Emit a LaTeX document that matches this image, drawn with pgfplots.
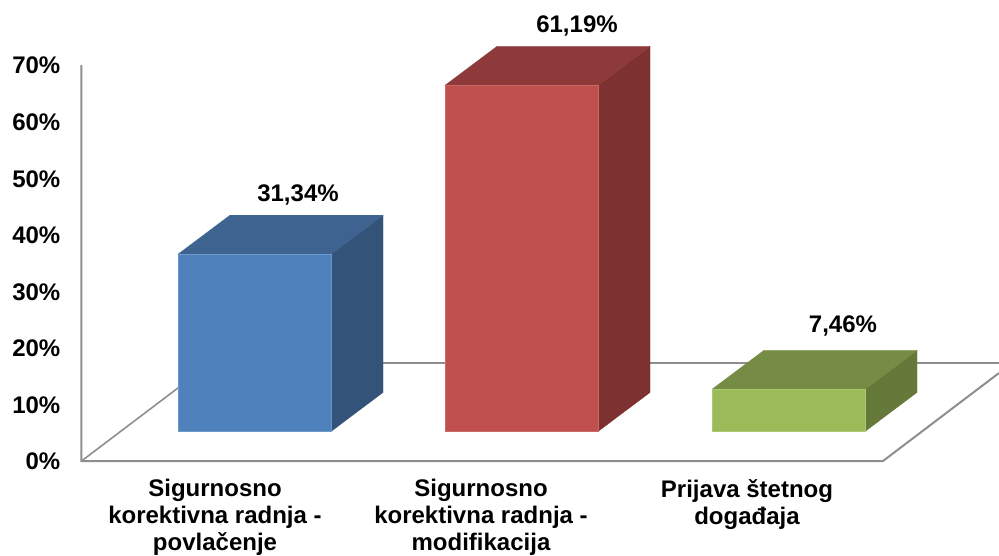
\documentclass[border=0pt]{standalone}
\usepackage{fontspec}
\setmainfont{Liberation Sans}
\usepackage{pgfplots}
\pgfplotsset{compat=1.18}

\definecolor{frameline}{HTML}{8E8E8E}
\definecolor{blueFront}{HTML}{4F81BD}
\definecolor{blueTop}{HTML}{3F6390}
\definecolor{blueSide}{HTML}{335378}
\definecolor{blueEdge}{HTML}{6E97CA}
\definecolor{redFront}{HTML}{C0504D}
\definecolor{redTop}{HTML}{8F3A3A}
\definecolor{redSide}{HTML}{7D3231}
\definecolor{redEdge}{HTML}{C86A67}
\definecolor{greenFront}{HTML}{9BBB59}
\definecolor{greenTop}{HTML}{768C45}
\definecolor{greenSide}{HTML}{657A3A}
\definecolor{greenEdge}{HTML}{ABC872}

% Value labels: decimal comma, two places, percent sign
\pgfplotsset{
  pct label/.style 2 args={
    nodes near coords={\pgfmathprintnumber[fixed,fixed zerofill,precision=2,use comma,assume math mode=true]{\pgfplotspointmeta}\%},
    every node near coord/.append style={
      anchor=base, xshift=#1, yshift=#2, inner sep=0pt, text=black,
      font=\fontsize{24}{27}\selectfont\bfseries},
  },
  front bar/.style={ybar, bar width=153pt, bar shift=0pt, fill=#1},
}

\begin{document}
\begin{tikzpicture}
\path[use as bounding box] (-81.5pt,-94pt) rectangle (917.5pt,461pt);
\begin{axis}[
  at={(0pt,0pt)}, anchor=south west,
  scale only axis, width=917.5pt, height=461pt,
  xmin=81.5, xmax=999,
  ymin=-5.215, ymax=76.28,
  clip=false,
  axis line style={draw=none},
  major tick length=0pt,
  % the bars stand on a floor drawn in perspective, so zero on the wall sits below the bars' base
  ytick={-5.215,4.785,14.785,24.785,34.785,44.785,54.785,64.785},
  yticklabels={0\%,10\%,20\%,30\%,40\%,50\%,60\%,70\%},
  yticklabel style={anchor=east, xshift=-21pt, yshift=-0.7pt, inner sep=0pt,
    font=\fontsize{24}{27}\selectfont\bfseries},
  xtick={215,481,747},
  xticklabels={
    {Sigurnosno\\korektivna radnja -\\povlačenje},
    {Sigurnosno\\korektivna radnja -\\modifikacija},
    {Prijava štetnog\\događaja}},
  xticklabel style={anchor=north, align=center, inner sep=0pt, yshift=-18pt,
    font=\fontsize{24}{27}\selectfont\bfseries},
]
% wall edge and floor outline
\addplot[frameline, line width=2pt] coordinates {(81.5,64.785) (81.5,-5.215) (883,-5.215) (999,10.34)};
\addplot[frameline, line width=1.6pt] coordinates {(81.5,-5.215) (211,12.11) (999,12.11)};

% Blue bar
\addplot[fill=blueSide, draw=blueSide, line width=0.3pt] coordinates {(331,0) (383,6.9) (383,38.24) (331,31.34)} -- cycle;
\addplot[fill=blueTop, draw=blueTop, line width=0.3pt] coordinates {(178,31.34) (230,38.24) (383,38.24) (331,31.34)} -- cycle;
\addplot[front bar=blueFront, draw=blueEdge, line width=0.3pt, pct label={43.5pt}{53pt}] coordinates {(254.5,31.34)};

% Red bar
\addplot[fill=redSide, draw=redSide, line width=0.3pt] coordinates {(598,0) (650,6.9) (650,68.09) (598,61.19)} -- cycle;
\addplot[fill=redTop, draw=redTop, line width=0.3pt] coordinates {(445,61.19) (497,68.09) (650,68.09) (598,61.19)} -- cycle;
\addplot[front bar=redFront, draw=redEdge, line width=0.3pt, pct label={55.5pt}{53pt}] coordinates {(521.5,61.19)};

% Green bar
\addplot[fill=greenSide, draw=greenSide, line width=0.3pt] coordinates {(865,0) (917,6.9) (917,14.36) (865,7.46)} -- cycle;
\addplot[fill=greenTop, draw=greenTop, line width=0.3pt] coordinates {(712,7.46) (764,14.36) (917,14.36) (865,7.46)} -- cycle;
\addplot[front bar=greenFront, draw=greenEdge, line width=0.3pt, pct label={54.5pt}{57pt}] coordinates {(788.5,7.46)};
\end{axis}
\end{tikzpicture}
\end{document}
